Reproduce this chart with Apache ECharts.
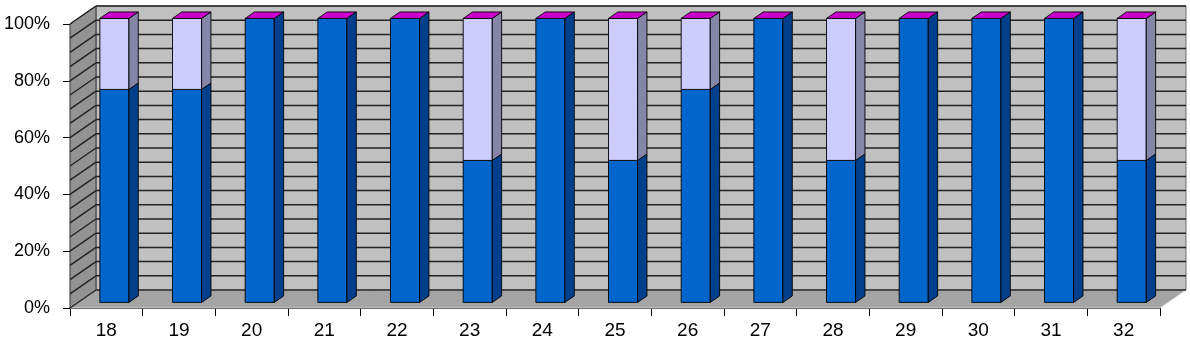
<!DOCTYPE html>
<html>
<head>
<meta charset="utf-8">
<script src="https://cdn.jsdelivr.net/npm/echarts@6/dist/echarts.min.js"></script>
<style>
html,body{margin:0;padding:0;background:#fff;}
#chart{width:1190px;height:340px;}
</style>
</head>
<body>
<div id="chart"></div>
<script>
// ---- data ----
const categories = ['18','19','20','21','22','23','24','25','26','27','28','29','30','31','32'];
const seriesBlue = [75,75,100,100,100,50,100,50,75,100,50,100,100,100,50];
const seriesLavender = [25,25,0,0,0,50,0,50,25,0,50,0,0,0,50];
const seriesTop = [0,0,0,0,0,0,0,0,0,0,0,0,0,0,0];
const yTicks = [0,20,40,60,80,100];
const wallGridValues = [0,5,10,15,20,25,30,35,40,45,50,55,60,65,70,75,80,85,90,95,100];

// ---- geometry (3D depth) ----
const DX = 26, DY = 18;
const BAR_FRAC = 0.4, D_FRONT = 0.31, D_BACK = 0.67;

const chart = echarts.init(document.getElementById('chart'), null, {renderer:'canvas'});

function barGeom(api, i, lo, hi){
  const c0 = api.coord([i, lo]);
  const c1 = api.coord([i, hi]);
  const bw = api.size([1, 0])[0] * BAR_FRAC;
  const fx = DX * D_FRONT, fy = DY * D_FRONT;
  const ddx = DX * (D_BACK - D_FRONT), ddy = DY * (D_BACK - D_FRONT);
  const x0 = c0[0] - bw / 2 + fx, x1 = x0 + bw;
  return {x0, x1, yb: c0[1] - fy, yt: c1[1] - fy, ddx, ddy};
}

function segmentRenderer(front, side){
  return function(params, api){
    const i = api.value(0), lo = api.value(1), hi = api.value(2);
    if (hi <= lo) return null;
    const g = barGeom(api, i, lo, hi);
    const st = {stroke:'#000', lineWidth:0.9};
    return {type:'group', children:[
      {type:'polygon', shape:{points:[[g.x0,g.yb],[g.x1,g.yb],[g.x1,g.yt],[g.x0,g.yt]]}, style:Object.assign({fill:front}, st)},
      {type:'polygon', shape:{points:[[g.x1,g.yb],[g.x1+g.ddx,g.yb-g.ddy],[g.x1+g.ddx,g.yt-g.ddy],[g.x1,g.yt]]}, style:Object.assign({fill:side}, st)}
    ]};
  };
}

function topRenderer(params, api){
  const i = api.value(0), h = api.value(1);
  const g = barGeom(api, i, h, h);
  return {type:'polygon', shape:{points:[[g.x0,g.yt],[g.x1,g.yt],[g.x1+g.ddx,g.yt-g.ddy],[g.x0+g.ddx,g.yt-g.ddy]]},
    style:{fill:'#CC00CC', stroke:'#000', lineWidth:0.9}};
}

function wallRenderer(params, api){
  const cs = params.coordSys;
  const x = cs.x, y = cs.y, w = cs.width, h = cs.height;
  const ch = [];
  // back wall
  ch.push({type:'rect', shape:{x:x+DX, y:y-DY, width:w, height:h}, style:{fill:'#C0C0C0', stroke:'#707070', lineWidth:1}});
  // side wall
  ch.push({type:'polygon', shape:{points:[[x,y],[x+DX,y-DY],[x+DX,y+h-DY],[x,y+h]]}, style:{fill:'#939393', stroke:'#333', lineWidth:1}});
  // floor
  ch.push({type:'polygon', shape:{points:[[x,y+h],[x+w,y+h],[x+w+DX,y+h-DY],[x+DX,y+h-DY]]}, style:{fill:'#A4A4A4', stroke:'#d8d8d8', lineWidth:1}});
  wallGridValues.forEach(function(v){
    const yy = api.coord([0, v])[1];
    ch.push({type:'line', shape:{x1:x+DX, y1:yy-DY, x2:x+w+DX, y2:yy-DY}, style:{stroke:'#222', lineWidth:1.5}});
    ch.push({type:'line', shape:{x1:x, y1:yy, x2:x+DX, y2:yy-DY}, style:{stroke:'#222', lineWidth:1.4}});
  });
  return {type:'group', children:ch};
}

const blueData = categories.map((c,i)=>[i, 0, seriesBlue[i]]);
const lavData = categories.map((c,i)=>[i, seriesBlue[i], seriesBlue[i]+seriesLavender[i]]);
const topData = categories.map((c,i)=>[i, seriesBlue[i]+seriesLavender[i]+seriesTop[i]]);

chart.setOption({
  animation:false,
  backgroundColor:'#fff',
  grid:{left:70, right:30, top:24, bottom:32},
  xAxis:{
    type:'category', data:categories, boundaryGap:true,
    axisLine:{show:true, lineStyle:{color:'#000', width:1}},
    axisTick:{show:true, length:8, lineStyle:{color:'#000'}},
    axisLabel:{color:'#000', fontSize:19, fontFamily:'Liberation Sans, Arial, sans-serif', margin:13},
    splitLine:{show:false}
  },
  yAxis:{
    type:'value', min:0, max:100, interval:20,
    axisLine:{show:true, lineStyle:{color:'#000', width:1}},
    axisTick:{show:true, length:7, lineStyle:{color:'#000'}},
    axisLabel:{color:'#000', fontSize:18, fontFamily:'Liberation Sans, Arial, sans-serif', margin:20, formatter:'{value}%'},
    splitLine:{show:false}
  },
  series:[
    {type:'custom', name:'walls', data:[[0,0]], renderItem:wallRenderer, z:1, silent:true, clip:false},
    {type:'custom', name:'A', data:blueData, renderItem:segmentRenderer('#0066CC','#003F8C'), encode:{x:0,y:[1,2]}, z:3, clip:false},
    {type:'custom', name:'B', data:lavData, renderItem:segmentRenderer('#CCCCFF','#8585A8'), encode:{x:0,y:[1,2]}, z:3, clip:false},
    {type:'custom', name:'C', data:topData, renderItem:topRenderer, encode:{x:0,y:1}, z:4, clip:false}
  ]
});
</script>
</body>
</html>
